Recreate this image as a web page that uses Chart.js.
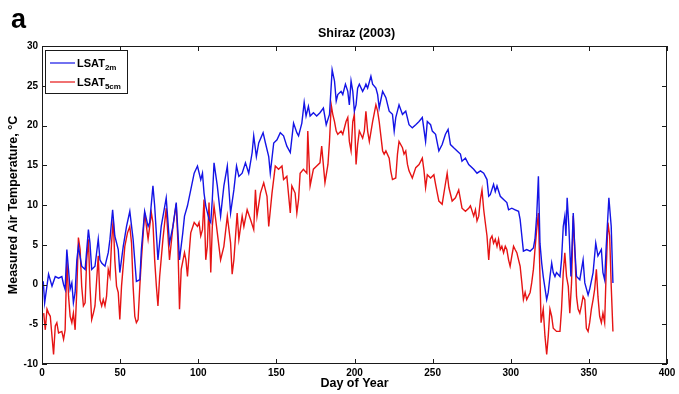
<!DOCTYPE html>
<html>
<head>
<meta charset="utf-8">
<title>Shiraz (2003)</title>
<script src="https://cdn.jsdelivr.net/npm/chart.js@4.4.1/dist/chart.umd.min.js"></script>
<style>
  html, body { margin: 0; padding: 0; background: #fff; }
  canvas { display: block; }
</style>
</head>
<body>
<canvas id="shiraz" width="679" height="394"></canvas>
<script>
const FONT = '"Liberation Sans", Arial, Helvetica, sans-serif';

// LSAT at 2 m (blue): day of year and temperature
const days2m = [
  0.8, 1.7, 4.2, 6.4, 8.5, 10.6, 12.7, 13.8, 14.8, 15.9, 18, 19.1, 20.1, 21.2, 22.3, 23.3, 25.4, 27.6,
  29.7, 30.7, 31.8, 33.9, 36, 37.1, 38.2, 40.3, 42.4, 43.5, 45.2, 46.6, 48.8, 49.8, 52, 54.1, 56.2, 58.3,
  60.4, 62.6, 63.6, 65.7, 67.9, 68.9, 71, 72.1, 74.2, 76.3, 79.5, 81.6, 83.8, 85.9, 88, 90.1, 91.2,
  93.1, 95.2, 97.4, 99.5, 101.6, 102.7, 103.7, 104.8, 106.9, 108, 109, 110.1, 112.2, 114.3, 116.4, 118.6,
  120.7, 122.8, 124.5, 126, 128.1, 130.2, 132.3, 134.5, 135.5, 137.2, 138.7, 141.5, 143, 145.1, 146.1,
  148.3, 150.4, 152.5, 154.6, 156.7, 158.9, 161, 163.1, 164.2, 166.3, 167.8, 169, 170.5, 171.6, 173.7,
  175.8, 177.9, 180.1,
  181.9, 184, 185.7, 187.2, 188.3, 189.3, 191.4, 192.5, 194.2, 195.7, 196.7, 197.8, 198.9, 199.9, 201,
  202, 203.1, 205.2, 206.3, 207.3, 208.4, 210.5, 211.6, 213.7, 214.8, 215.8, 218, 220.1, 222.2, 224.3,
  225.4, 226.4, 228.5, 230.7, 232.8, 234.9, 237, 239.2, 241.3, 243.4, 245.5, 246.6, 248.7, 249.8, 251.9,
  254, 256.1, 258.2, 259.9, 261.4, 263.5, 265.7, 267.8, 268.8, 271, 273.1,
  276.3, 278.4, 280.6, 282.7, 284.8, 285.9, 286.9, 289, 290.1, 291.2, 293.3, 295.4, 297.5, 298.6, 300.7,
  302.8, 305, 306, 307.1, 308.1, 310.2, 312.4, 314.5, 315.5, 316.6, 317.7, 318.7, 319.8, 320.8, 323, 324,
  325.1, 326.2, 327.2, 328.3, 329.3, 331.5, 332.5, 333.6, 334.6, 335.3, 336.1, 337.2, 338.5, 340, 341,
  342.1, 344.2, 346.3, 347.4, 349.5, 350.5, 352.7, 354.4, 355.8, 358, 359, 360.1, 361.1, 362.8, 364.3, 365.4
];
const temps2m = [
  0.4, -2.3, 1.3, -0.2, 1.0, 0.8, 1.0, 0, -0.6, 4.4, -0.6, 0.2, -2.3, -1.0, 3.1, 4.8, 2.3, 1.9,
  6.9, 5.2, 1.9, 2.3, 5.7, 3.1, 2.7, 2.3, 4.0, 5.7, 9.4, 6.1, 4.4, 1.5, 4.8, 7.3, 9.2, 5.7,
  0.4, 0.6, 4.4, 9.2, 7.3, 7.8, 12.4, 9.9, 3.1, 7.3, 10.9, 5.2, 7.3, 10.3, 3.1, 6.5, 8.6,
  9.9, 11.9, 14.0, 14.9, 13.2, 14.0, 11.5, 9.9, 8.2, 7.8, 10.7, 15.3, 12.4, 8.6, 12.4, 14.9,
  9.0, 11.9, 14.9, 13.6, 14.0, 15.3, 14.0, 16.6, 18.7, 16.1, 17.8, 19.1, 17.8, 16.1, 14.0,
  17.8, 18.2, 19.1, 18.7, 17.4, 16.6, 20.3, 19.1, 18.7, 20.3, 22.9, 21.2, 22.4, 21.2, 21.6,
  21.2, 21.6, 22.2,
  20.1, 21.4, 27.0, 25.6, 23.1, 23.9, 24.3, 23.9, 25.2, 24.3, 22.6, 25.6, 24.3, 21.8, 22.6,
  24.7, 25.2, 24.3, 24.7, 25.2, 24.7, 26.2, 25.2, 24.7, 23.9, 22.2, 24.3, 23.5, 21.8, 21.4,
  19.3, 21.0, 22.6, 21.4, 21.8, 20.1, 19.7, 20.1, 20.5, 21.0, 18.0, 20.5, 20.1, 19.3, 18.9,
  16.8, 17.6, 18.9, 19.5, 17.6, 17.2, 16.8, 16.4, 15.5, 15.9, 15.1,
  14.5, 14.0, 14.3, 14.0, 13.2, 11.1, 11.3, 12.6, 11.7, 12.4, 11.1, 10.7, 10.3, 9.4, 9.6,
  9.4, 9.2, 8.2, 6.1, 4.2, 4.4, 4.2, 4.6, 5.7, 8.6, 13.6, 5.2, 2.7, 1.0, -1.9, -1.0,
  1.0, 2.7, 1.5, 1.0, 1.5, 1.0, 3.1, 7.3, 8.6, 6.1, 10.9, 7.3, 1.0, 9.0, 4.4,
  1.0, 0.6, 3.1, 0.2, -1.3, -0.6, 1.5, 5.2, 3.6, 4.4, 1.5, 0.6, 4.8, 10.9, 7.3, 0.2
];

// LSAT at 5 cm (red)
const days5cm = [
  1.1, 2.1, 3.2, 4.2, 5.3, 7.4, 8.5, 9.5, 10.6, 12.7, 13.8, 14.8, 15.9, 17, 18, 19.1, 20.1, 21.2, 22.3,
  23.3, 24.4, 25.4, 26.5, 27.6, 28.6, 29.7, 30.7, 31.8, 32.9, 33.9, 35, 36, 37.1, 38.2, 39.2, 40.3, 41.3,
  42.4, 43.5, 44.5, 45.6, 46.6, 47.7, 48.8, 49.8, 50.9, 53, 54.7, 56.2, 57.3, 58.3, 59.4, 60.4, 61.5,
  62.6, 63.6, 65.7, 67.9, 70, 71, 72.1, 73.2, 74.2, 75.3, 77.4, 79.5, 81.6, 83.8, 85.9, 86.9, 88, 89.1, 91.2,
  92.1, 93.1, 94.2, 95.2, 97.4, 99.5, 100.5, 101.6, 102.7, 103.7, 104.8, 105.8, 106.9, 108, 109, 110.1,
  112.2, 114.3, 116.4, 118.6, 120.7, 121.7, 122.8, 124.9, 126, 128.1, 129.2, 131.3, 133.4, 135.5, 136.6,
  137.6, 139.8, 141.9, 143, 144, 145.1, 147.2, 149.3, 151.4, 153.6, 154.6, 156.7, 158.9, 159.9, 162,
  163.1, 164.2, 165.2, 167.3, 169.5, 170.1, 171.6, 173.7, 175.8, 177.9, 179, 181.1,
  183, 184, 185.1, 186.1, 187.2, 188.3, 189.3, 191.4, 192.5, 194.6, 195.7, 196.7, 197.8, 198.9, 199.9,
  201, 202, 203.1, 205.2, 206.3, 207.3, 208.4, 209.5, 211.6, 213.7, 214.8, 215.8, 218, 219, 220.1, 222.2,
  223.2, 224.3, 226.4, 227.5, 228.5, 230.7, 231.7, 232.8, 233.9, 234.9, 237, 239.2, 241.3, 243.4, 244.5,
  245.5, 246.6, 248.7, 250.8, 251.9, 254, 256.1, 257.8, 259.3, 260.4, 262.5, 264.6, 266.7, 268.8, 271, 273.1,
  274.2, 276.3, 277.4, 278.4, 279.5, 280.6, 281.6, 282.7, 283.7, 284.8, 285.9, 286.9, 288, 289, 290.1,
  291.2, 292.2, 293.3, 294.3, 295.4, 296.5, 297.5, 298.6, 299.6, 300.7, 301.8, 302.8, 303.9, 305, 306,
  307.1, 308.1, 309.2, 310.2, 312.4, 313.4, 314.5, 315.5, 316.6, 317.7, 318.7, 319.4, 320.8, 321.9, 323,
  324, 325.1, 326.2, 327.2, 329.3, 331.5, 332.5, 333.6, 334.6, 335.7, 336.8, 337.8, 338.9, 340, 341,
  342.1, 343.1, 344.2, 345.2, 346.3, 347.4, 348.4, 349.5, 350.5, 351.6, 352.7, 353.7, 354.8, 355.8,
  356.9, 358, 359, 360.1, 361.1, 362.2, 363.3, 364.3, 365.4
];
const temps5cm = [
  -3.6, -5.7, -3.1, -3.6, -4.0, -8.8, -5.2, -4.8, -6.1, -5.9, -6.9, -5.7, 3.1, -1.5, -4.0, -4.8, -3.6, -5.7, -0.6,
  5.9, 4.4, -0.2, -2.7, -2.3, 3.1, 5.7, -0.2, -4.4, -3.6, -2.7, 0.6, 3.6, -1.9, -2.7, -1.9, -2.7, -1.5,
  1.9, 1.0, 5.2, 8.2, 3.1, -0.2, -1.0, -4.4, -0.2, 4.8, 6.5, 7.3, 5.2, -0.2, -4.0, -4.8, -4.4,
  -0.2, 3.1, 9.0, 5.7, 9.0, 7.8, 3.1, -0.2, -2.7, 1.0, 5.7, 9.6, 3.1, 7.3, 10.1, 5.7, -3.1, 1.9, 4.0,
  3.1, 1.0, 4.0, 6.5, 7.8, 7.3, 7.8, 6.1, 6.9, 10.7, 3.1, 4.8, 10.3, 1.5, 7.3, 9.9,
  6.5, 3.1, 4.8, 8.6, 5.2, 1.3, 3.1, 9.0, 5.7, 8.6, 7.3, 9.4, 8.2, 6.9, 11.9,
  8.6, 11.5, 12.8, 11.9, 11.1, 7.3, 11.5, 14.9, 14.5, 14.9, 13.2, 13.6, 9.0, 12.4, 11.5,
  9.0, 10.7, 14.0, 14.5, 14.0, 19.3, 12.4, 14.5, 14.9, 15.3, 17.4, 12.8,
  15.1, 18.0, 22.6, 21.4, 20.5, 19.3, 18.9, 19.3, 18.9, 20.5, 21.0, 18.0, 16.8, 20.5, 21.4,
  15.1, 17.6, 19.3, 18.4, 19.3, 21.8, 19.3, 18.0, 20.5, 22.6, 21.8, 20.5, 16.8, 16.4, 16.8, 15.9,
  14.3, 13.2, 13.4, 16.4, 18.0, 17.2, 16.4, 16.8, 15.1, 14.3, 13.4, 14.7, 15.1, 15.9, 14.3,
  12.2, 13.8, 13.4, 13.8, 12.6, 10.5, 10.1, 12.2, 14.0, 12.2, 10.5, 10.9, 11.9, 9.6, 9.2, 9.6,
  9.9, 8.6, 9.4, 8.0, 8.6, 10.7, 11.9, 9.4, 7.8, 6.1, 3.1, 5.7, 6.1, 5.2, 5.7,
  4.8, 5.7, 4.4, 4.8, 4.0, 4.8, 4.4, 3.1, 2.3, 3.6, 4.8, 4.4, 4.0, 3.1, 2.3,
  0.2, -1.9, -1.0, -1.9, -1.0, 0.2, 1.9, 4.4, 6.9, 9.0, 1.0, -4.8, -3.1, -6.5, -8.8,
  -6.5, -3.1, -4.0, -5.5, -5.9, -5.9, -3.1, 1.5, 4.0, 1.0, -0.2, -3.6, 0.2, 8.6, 4.4,
  -1.5, -3.1, -3.6, -2.7, -1.5, -1.9, -5.5, -5.9, -4.8, -3.1, -1.9, -0.6, 1.9, -1.5,
  -4.0, -4.8, -3.6, -4.8, 1.9, 7.8, 6.1, -0.2, -5.9
];

const seriesNames = ['LSAT', 'LSAT'];
const seriesSubs = ['2m', '5cm'];
const seriesColors = ['#1414e6', '#e61414'];

const TICK = 5;

function toPoints(days, temps) {
  return days.map((d, i) => ({x: d, y: temps[i]}));
}

const framePlugin = {
  id: 'matlabFrame',
  afterDraw(chart) {
    const {ctx, chartArea: a, scales: {x, y}} = chart;
    ctx.save();
    ctx.strokeStyle = '#1a1a1a';
    ctx.lineWidth = 1;
    ctx.strokeRect(a.left + 0.5, a.top + 0.5, a.right - a.left - 1, a.bottom - a.top - 1);

    // inward ticks on all four sides
    ctx.beginPath();
    x.ticks.forEach(t => {
      const px = Math.round(x.getPixelForValue(t.value)) + 0.5;
      ctx.moveTo(px, a.bottom);
      ctx.lineTo(px, a.bottom - TICK);
      ctx.moveTo(px, a.top);
      ctx.lineTo(px, a.top + TICK);
    });
    y.ticks.forEach(t => {
      const py = Math.round(y.getPixelForValue(t.value)) + 0.5;
      ctx.moveTo(a.left, py);
      ctx.lineTo(a.left + TICK, py);
      ctx.moveTo(a.right, py);
      ctx.lineTo(a.right - TICK, py);
    });
    ctx.stroke();

    // title and panel letter
    ctx.fillStyle = '#000';
    ctx.textAlign = 'center';
    ctx.textBaseline = 'middle';
    ctx.font = 'bold 12.5px ' + FONT;
    ctx.fillText('Shiraz (2003)', (a.left + a.right) / 2 + 2, 34);
    ctx.textAlign = 'left';
    ctx.textBaseline = 'alphabetic';
    ctx.font = 'bold 27px ' + FONT;
    ctx.fillText('a', 11, 28);

    // legend box with subscripts
    const bx = 45.5, by = 50.5, bw = 82, bh = 43;
    ctx.fillStyle = '#fff';
    ctx.fillRect(bx, by, bw, bh);
    ctx.strokeStyle = '#1a1a1a';
    ctx.strokeRect(bx, by, bw, bh);
    seriesNames.forEach((name, i) => {
      const ly = 63 + i * 19;
      ctx.strokeStyle = seriesColors[i];
      ctx.lineWidth = 1.2;
      ctx.beginPath();
      ctx.moveTo(50, ly);
      ctx.lineTo(75, ly);
      ctx.stroke();
      ctx.fillStyle = '#000';
      ctx.font = 'bold 11px ' + FONT;
      ctx.fillText(name, 77, ly + 4);
      const w = ctx.measureText(name).width;
      ctx.font = 'bold 8px ' + FONT;
      ctx.fillText(seriesSubs[i], 77 + w, ly + 7);
    });
    ctx.restore();
  }
};

const tickFont = {family: FONT, size: 10, weight: 'bold'};
const titleFont = {family: FONT, size: 12.5, weight: 'bold'};

new Chart(document.getElementById('shiraz'), {
  type: 'line',
  data: {
    datasets: [
      {
        label: 'LSAT 2m',
        data: toPoints(days2m, temps2m),
        borderColor: seriesColors[0],
        borderWidth: 1.4,
        pointRadius: 0,
        tension: 0,
        fill: false
      },
      {
        label: 'LSAT 5cm',
        data: toPoints(days5cm, temps5cm),
        borderColor: seriesColors[1],
        borderWidth: 1.4,
        pointRadius: 0,
        tension: 0,
        fill: false
      }
    ]
  },
  options: {
    responsive: false,
    animation: false,
    devicePixelRatio: 1,
    layout: {padding: {top: 46, right: 12, bottom: 0, left: 0}},
    plugins: {
      legend: {display: false},
      tooltip: {enabled: false}
    },
    scales: {
      x: {
        type: 'linear',
        min: 0,
        max: 400,
        ticks: {stepSize: 50, color: '#000', font: tickFont, padding: 3, maxRotation: 0},
        grid: {display: false, drawTicks: false},
        border: {display: false},
        title: {display: true, text: 'Day of Year', color: '#000', font: titleFont, padding: {top: 0, bottom: 3}},
        afterFit: s => { s.height = 30; }
      },
      y: {
        type: 'linear',
        min: -10,
        max: 30,
        ticks: {stepSize: 5, color: '#000', font: tickFont, padding: 4},
        grid: {display: false, drawTicks: false},
        border: {display: false},
        title: {display: true, text: 'Measured Air Temperature, °C', color: '#000', font: titleFont, padding: {top: 6, bottom: 0}},
        afterFit: s => { s.width = 42; }
      }
    }
  },
  plugins: [framePlugin]
});
</script>
</body>
</html>
